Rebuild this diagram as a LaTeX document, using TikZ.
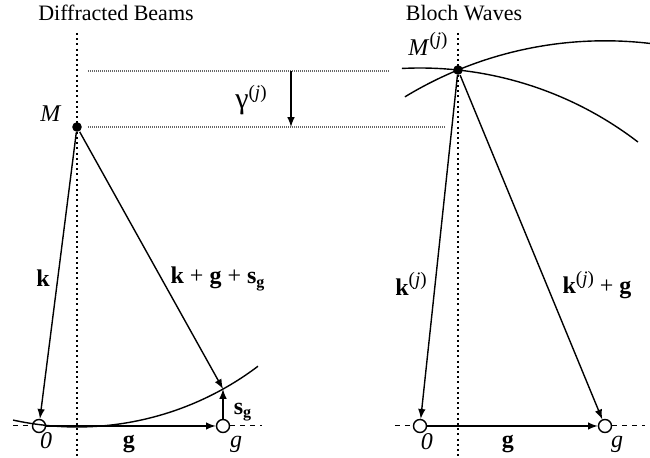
\documentclass[tikz,border=0pt]{standalone}
\usepackage{fontspec}
\setmainfont{Liberation Serif}
\usepackage{tikz}
\usetikzlibrary{positioning}

\newcommand{\supj}{\raisebox{0.85ex}{\fontsize{9.5pt}{10pt}\selectfont(\textit{j})}}

\tikzset{
  spot/.style={circle, fill=black, inner sep=0pt, minimum size=4.8pt},
  hole/.style={circle, draw, fill=white, inner sep=0pt, minimum size=6.5pt},
  vaxis/.style={dash pattern=on 1pt off 1.6pt, line width=0.8pt},
  level/.style={black!60, dash pattern=on 0.5pt off 0.5pt, line width=0.6pt},
  base/.style={dash pattern=on 2.5pt off 2.5pt, line width=0.5pt},
  lbl/.style={font=\fontsize{11pt}{13pt}\selectfont, inner sep=1pt},
  sym/.style={font=\fontsize{12pt}{14pt}\selectfont, inner sep=1pt},
}

\begin{document}
\begin{tikzpicture}[x=0.5pt, y=-0.5pt, >=latex, line width=0.7pt]
\useasboundingbox (0,0) rectangle (650,458);

% diffracted beams
\node[lbl] (titleL) at (116,13) {Diffracted Beams};
\draw[vaxis] (77,33) -- (77,458);
\node[spot] (M) at (77,127) {};
\node[hole] (O) at (39,426) {};
\node[hole] (G) at (223,426) {};
\coordinate (sg) at (223,389);
\coordinate (baseL) at (13,426);
\coordinate (baseR) at (262,426);

\draw ([shift={(257.7:150pt)}]M.center) arc[start angle=257.7, end angle=307.1, radius=150pt];
\draw[base] (baseL) -- (O);
\draw[base] (G) -- (baseR);
\draw[->] (M) -- (O);
\draw[->] (M) -- (sg);
\draw[->] (O) -- (G);
\draw[->] (G) -- (sg);

\node[sym] (Mlbl) at (51,114) {\textit{M}};
\node[sym] (klbl) at (43,278) {\textbf{k}};
\node[sym] (kgslbl) at (218,279) {\textbf{k} + \textbf{g} + \textbf{s}\textsubscript{\textbf{g}}};
\node[sym] (sglbl) at (243,412) {\textbf{s}\textsubscript{\textbf{g}}};
\node[sym] (Olbl) at (46,441) {\textit{0}};
\node[sym] (gvlbl) at (129,444) {\textbf{g}};
\node[sym] (glbl) at (236,444) {\textit{g}};

% gamma gap
\coordinate (topA) at (88,71);
\coordinate (topB) at (390,71);
\coordinate (midA) at (88,127);
\coordinate (midB) at (445,127);
\coordinate (gtop) at (291,71);
\coordinate (gbot) at (291,127);
\draw[level] (topA) -- (topB);
\draw[level] (midA) -- (midB);
\draw[->] (gtop) -- (gbot);
\node[sym] (gamlbl) at (251,100) {{\fontsize{15pt}{15pt}\selectfont γ}\supj};

% bloch waves
\node[lbl] (titleR) at (464,13) {Bloch Waves};
\draw[vaxis] (458,33) -- (458,458);
\node[spot] (Mj) at (458,70) {};
\node[hole] (Oj) at (420,426) {};
\node[hole] (Gj) at (605,426) {};
\coordinate (baseLj) at (395,426);
\coordinate (baseRj) at (645,426);

\draw ([shift={(92.9:179pt)}]Oj.center) arc[start angle=92.9, end angle=52.5, radius=179pt];
\draw ([shift={(121.3:192.6pt)}]Gj.center) arc[start angle=121.3, end angle=83.3, radius=192.6pt];
\draw[base] (baseLj) -- (Oj);
\draw[base] (Gj) -- (baseRj);
\draw[->] (Mj) -- (Oj);
\draw[->] (Mj) -- (Gj);
\draw[->] (Oj) -- (Gj);

\node[sym] (Mjlbl) at (428,44) {\textit{M}\supj};
\node[sym] (kjlbl) at (411,284) {\textbf{k}\supj};
\node[sym] (kjglbl) at (597,285) {\textbf{k}\supj{} + \textbf{g}};
\node[sym] (Ojlbl) at (427,442) {\textit{0}};
\node[sym] (gvjlbl) at (508,444) {\textbf{g}};
\node[sym] (gjlbl) at (617,444) {\textit{g}};
\end{tikzpicture}
\end{document}
